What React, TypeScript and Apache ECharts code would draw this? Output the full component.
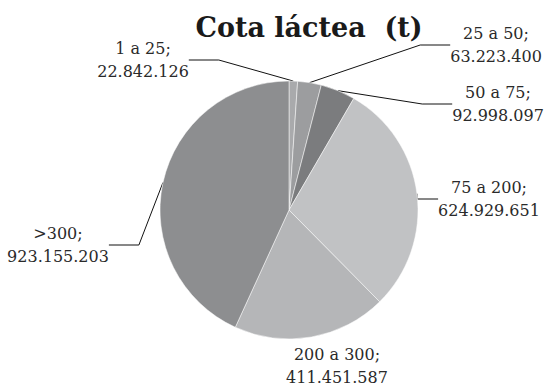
import React, { useEffect, useRef } from "react";
import * as echarts from "echarts";

const categories = ["1 a 25", "25 a 50", "50 a 75", "75 a 200", "200 a 300", ">300"];
const values = [22842126, 63223400, 92998097, 624929651, 411451587, 923155203];
const valueTexts = ["22.842.126", "63.223.400", "92.998.097", "624.929.651", "411.451.587", "923.155.203"];
const colors = ["#a9aaac", "#9c9d9f", "#7b7c7e", "#c1c2c4", "#b5b6b8", "#8d8e90"];
const labelPos: [number, number][] = [
  [143, 60],
  [496, 45],
  [498, 104],
  [489, 199],
  [337, 366],
  [58, 245],
];

export default function App() {
  const ref = useRef<HTMLDivElement>(null);
  useEffect(() => {
    if (!ref.current) return;
    const chart = echarts.init(ref.current, null, { renderer: "svg" });
    chart.setOption({
      animation: false,
      backgroundColor: "#ffffff",
      title: {
        text: "Cota láctea  (t)",
        left: 304,
        textAlign: "center",
        top: 9,
        textStyle: {
          fontFamily: "'DejaVu Serif', serif",
          fontWeight: "bold",
          fontSize: 27,
          color: "#1a1a1a",
        },
      },
      series: [
        {
          type: "pie",
          center: [289, 210],
          radius: 129,
          startAngle: 90,
          clockwise: true,
          avoidLabelOverlap: false,
          itemStyle: { borderColor: "#ffffff", borderWidth: 0.5 },
          label: {
            show: true,
            formatter: (p: any) => `${p.name};\n${valueTexts[p.dataIndex]}`,
            fontFamily: "'DejaVu Serif', serif",
            fontSize: 16,
            lineHeight: 23,
            color: "#2a2a2a",
            align: "center",
          },
          labelLine: {
            show: true,
            lineStyle: { color: "#111111", width: 1 },
          },
          labelLayout: (params: any) => {
            const [x, y] = labelPos[params.dataIndex];
            return { x, y, align: "center", verticalAlign: "middle" };
          },
          data: categories.map((c, i) => ({
            name: c,
            value: values[i],
            itemStyle: { color: colors[i] },
            labelLine: { show: i !== 4 },
          })),
        },
      ],
    });
    return () => chart.dispose();
  }, []);
  return (
    <div
      ref={ref}
      style={{ position: "absolute", left: 0, top: 0, width: 548, height: 387 }}
    />
  );
}
